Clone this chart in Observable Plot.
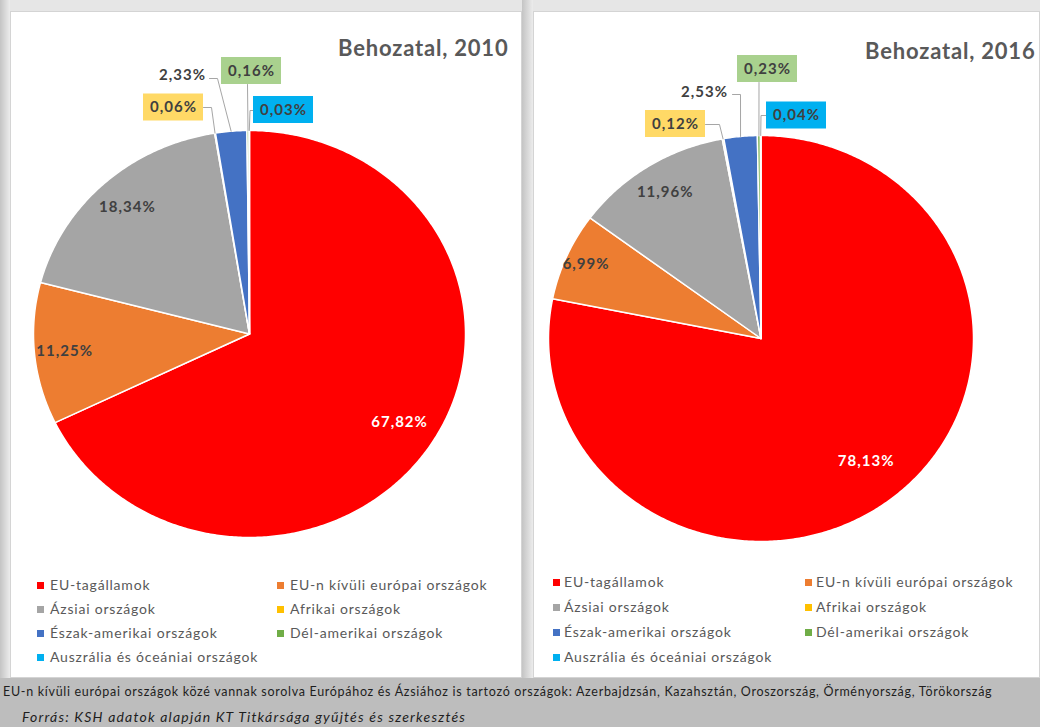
<!DOCTYPE html>
<html><head><meta charset="utf-8">
<script src="https://cdn.jsdelivr.net/npm/d3@7"></script>
<script src="https://cdn.jsdelivr.net/npm/@observablehq/plot@0.6"></script>
<style>
html,body{margin:0;padding:0}
body{width:1040px;height:727px;overflow:hidden;background:#e6e6e6;font-family:Lato,"Open Sans",sans-serif;position:relative}
.panel{position:absolute;top:11px;height:667px;background:#fff;box-shadow:inset 0 0 0 1px #d4d4d4}
.panel svg{position:absolute;left:0;top:0}
.panel svg text{letter-spacing:1px}
.panel svg g[font-size="22"] text{letter-spacing:0.8px}
.gap{position:absolute;top:0;height:678px;background:linear-gradient(to right,#c4c4c4,#ececec)}
.band{position:absolute;left:0;top:678px;width:1040px;height:49px;background:#bdbdbd}
.leg{position:absolute;font-size:14px;color:#595959;white-space:nowrap;line-height:16px;letter-spacing:0.8px}
.leg i{position:absolute;width:7px;height:7px;top:5px}
.note{position:absolute;white-space:nowrap;color:#1e1e1e}
</style></head><body>
<div id="root"></div>
<script>
const categories = ["EU-tagállamok","EU-n kívüli európai országok","Ázsiai országok","Afrikai országok","Észak-amerikai országok","Dél-amerikai országok","Auszrália és óceániai országok"];
const colors = ["#ff0000","#ed7d31","#a5a5a5","#ffc000","#4472c4","#70ad47","#00b0f0"];
const years = ["2010","2016"];
const values2010 = [67.82, 11.25, 18.34, 0.06, 2.33, 0.16, 0.03];
const values2016 = [78.13, 6.99, 11.96, 0.12, 2.53, 0.23, 0.04];
const titlePrefix = "Behozatal, ";
const footnote = "EU-n kívüli európai országok közé vannak sorolva Európához és Ázsiához is tartozó országok: Azerbajdzsán, Kazahsztán, Oroszország, Örményország, Törökország";
const source = "Forrás: KSH adatok alapján KT Titkársága gyűjtés és szerkesztés";

// ---- layout (pixel positions, page coordinates) ----
const layouts = [
  {left:10, width:512, cx:249, cy:333.5, rx:216, ry:203.5, titleDx:-14, titleDy:29,
   inner:[{i:0,f:0.82},{i:1,f:0.86},{i:2,f:0.84}],
   outside:[
     {i:3, x:173, y:107, box:"#ffd966", path:[[203,107],[211,107]]},
     {i:4, x:182, y:75, box:null, path:[[209,78],[217,78]]},
     {i:5, x:251, y:70.5, box:"#a9d18e", path:[[247,84]]},
     {i:6, x:283, y:109.5, box:"#00b0f0", path:[[253,110],[249.5,110]]}
   ],
   legCols:[37,277], legText:13, legRows:[585,609,633,657]},
  {left:533, width:507, cx:760.5, cy:338, rx:212.5, ry:203, titleDx:-5, titleDy:32,
   inner:[{i:0,f:0.78},{i:1,f:0.9},{i:2,f:0.85}],
   outside:[
     {i:3, x:675, y:123.5, box:"#ffd966", path:[[705,124],[719,124]]},
     {i:4, x:704, y:92, box:null, path:[[732,94],[740,94]]},
     {i:5, x:767, y:68.5, box:"#a9d18e", path:[[758.5,82]]},
     {i:6, x:796, y:115, box:"#00b0f0", path:[[766,115],[760.5,115]]}
   ],
   legCols:[553,805], legText:11, legRows:[582,607,632,657]}
];
const seriesValues = [values2010, values2016];

const fmt = v => d3.format(".2f")(v).replace(".", ",") + "%";
const root = document.getElementById("root");
const TOP = 11, SVGH = 560;

function buildPanel(k) {
  const p = layouts[k], values = seriesValues[k];
  const div = document.createElement("div");
  div.className = "panel";
  div.style.left = p.left + "px";
  div.style.width = p.width + "px";
  root.appendChild(div);

  const pie = d3.pie().sort(null).value(d => d.v)(values.map((v, i) => ({v, i, cat: categories[i]})));
  const X = (a, f = 1) => p.cx + f * p.rx * Math.sin(a);
  const Y = (a, f = 1) => p.cy - f * p.ry * Math.cos(a);
  const mid = s => (s.startAngle + s.endAngle) / 2;

  const slicePts = [];
  pie.forEach(s => {
    const cat = s.data.cat;
    slicePts.push({cat, x: p.cx, y: p.cy});
    const n = Math.max(2, Math.ceil((s.endAngle - s.startAngle) / 0.01));
    for (let j = 0; j <= n; j++) {
      const a = s.startAngle + (s.endAngle - s.startAngle) * j / n;
      slicePts.push({cat, x: X(a), y: Y(a)});
    }
  });

  const innerLabels = p.inner.map(d => {
    const s = pie[d.i];
    return {x: X(mid(s), d.f), y: Y(mid(s), d.f), text: fmt(values[d.i]), white: d.i === 0};
  });

  const outsideLabels = p.outside.map(d => ({...d, text: fmt(values[d.i])}));
  const leaders = [];
  p.outside.forEach(d => {
    d.path.forEach(([x, y]) => leaders.push({i: d.i, x, y}));
    const s = pie[d.i];
    leaders.push({i: d.i, x: X(mid(s)), y: Y(mid(s))});
  });

  const boxes = outsideLabels.filter(d => d.box).map(d =>
    Plot.rect([d], {x1: d => d.x - 30, x2: d => d.x + 30, y1: d => d.y - 13.5, y2: d => d.y + 13.5, fill: d.box}));

  const svg = Plot.plot({
    width: p.width, height: SVGH,
    margin: 0,
    style: {background: "transparent", overflow: "visible", fontFamily: "Lato, 'Open Sans', sans-serif"},
    x: {domain: [p.left, p.left + p.width], range: [0, p.width], axis: null},
    y: {domain: [TOP, TOP + SVGH], range: [0, SVGH], axis: null},
    color: {domain: categories, range: colors},
    marks: [
      Plot.line(slicePts, {x: "x", y: "y", z: "cat", fill: "cat", stroke: "white", strokeWidth: 1.5, curve: "linear-closed"}),
      Plot.line(leaders, {x: "x", y: "y", z: "i", stroke: "#a6a6a6", strokeWidth: 1, curve: "linear"}),
      ...boxes,
      Plot.text(outsideLabels, {x: "x", y: "y", text: "text", fontSize: 15, fontWeight: "bold", fill: "#404040"}),
      Plot.text(innerLabels, {x: "x", y: "y", text: "text", fontSize: 15, fontWeight: "bold", fill: d => d.white ? "white" : "#404040"}),
      Plot.text([titlePrefix + years[k]], {frameAnchor: "top-right", dx: p.titleDx, dy: p.titleDy, fontSize: 22, fontWeight: "bold", fill: "#595959"})
    ]
  });
  div.appendChild(svg);

  categories.forEach((c, i) => {
    const col = i % 2, row = Math.floor(i / 2);
    const item = document.createElement("div");
    item.className = "leg";
    item.style.left = (p.legCols[col] - p.left) + "px";
    item.style.top = (p.legRows[row] - TOP - 8) + "px";
    item.style.paddingLeft = p.legText + "px";
    const sw = document.createElement("i");
    sw.style.left = "0px";
    sw.style.background = colors[i];
    item.appendChild(sw);
    item.appendChild(document.createTextNode(c));
    div.appendChild(item);
  });
}

const gap1 = document.createElement("div"); gap1.className = "gap"; gap1.style.left = "0px"; gap1.style.width = "10px"; root.appendChild(gap1);
const gap2 = document.createElement("div"); gap2.className = "gap"; gap2.style.left = "522px"; gap2.style.width = "11px"; root.appendChild(gap2);
buildPanel(0);
buildPanel(1);
const band = document.createElement("div"); band.className = "band"; root.appendChild(band);
const n1 = document.createElement("div"); n1.className = "note";
n1.style.cssText = "left:3px;top:684px;font-size:12.5px;letter-spacing:0.7px;";
n1.textContent = footnote; root.appendChild(n1);
const n2 = document.createElement("div"); n2.className = "note";
n2.style.cssText = "left:22px;top:708px;font-size:14px;font-style:italic;letter-spacing:1.2px;";
n2.textContent = source; root.appendChild(n2);
</script>
</body></html>
